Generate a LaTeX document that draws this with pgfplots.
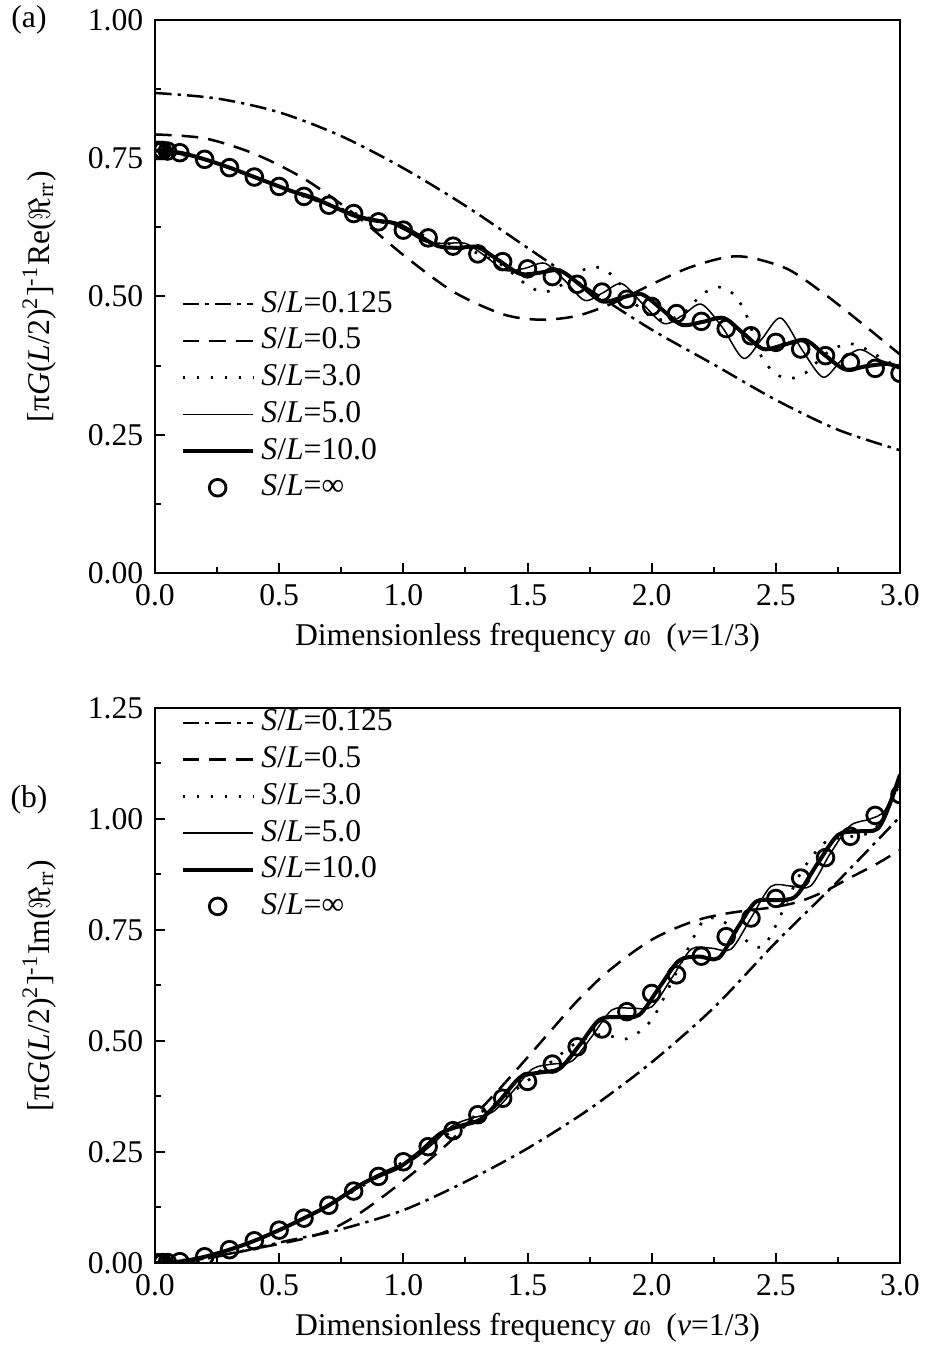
\documentclass[border=0pt]{standalone}
\usepackage{fontspec}
\setmainfont{Liberation Serif}
\usepackage{pgfplots}
\pgfplotsset{compat=1.18}

\newcommand{\lbl}{\fontsize{9.5}{11.4}\selectfont}

\pgfplotsset{
  legend image code/.code={\draw[mark repeat=2,mark phase=2,#1] plot coordinates {(0cm,0cm) (0.37cm,0cm) (0.74cm,0cm)};},
  panel/.style={
    scale only axis, width=223.5pt,
    xmin=0, xmax=3, ymin=0,
    xtick={0,0.5,1,1.5,2,2.5,3},
    minor x tick num=1, minor y tick num=1,
    tick align=inside, tick pos=left,
    major tick length=3pt, minor tick length=1.8pt,
    axis line style={line width=0.8pt},
    every tick/.style={black, line width=0.6pt},
    tick label style={font=\lbl},
    label style={font=\lbl},
    /pgf/number format/assume math mode=true,
    xticklabel style={/pgf/number format/.cd, fixed, fixed zerofill, precision=1},
    yticklabel style={/pgf/number format/.cd, fixed, fixed zerofill, precision=2},
    xlabel={Dimensionless frequency \textit{a}{\fontsize{6.5}{7}\selectfont 0}\ \ (\textit{ν}=1/3)},
    legend style={draw=none, fill=none, font=\lbl, anchor=north west, row sep=-0.8pt},
    legend cell align=left,
    clip marker paths=true,
  },
  dd/.style={black, line width=0.75pt, dash pattern=on 5pt off 1.8pt on 1pt off 1.8pt, smooth},
  ds/.style={black, line width=0.75pt, dash pattern=on 5pt off 3pt, smooth},
  dt/.style={black, line width=0.8pt, dash pattern=on 0.8pt off 3.4pt, smooth},
  thn/.style={black, line width=0.45pt, smooth},
  thk/.style={black, line width=1.2pt, smooth},
  circ/.style={black, only marks, mark=o, mark size=2.5pt, line width=0.85pt},
}

\begin{document}
\begin{tikzpicture}
\useasboundingbox (-46.5pt,-27pt) rectangle (231pt,378.9pt);

% (a) real part
\begin{axis}[panel, at={(0,207pt)}, anchor=south west,
  height=165.9pt, ymax=1,
  ytick={0,0.25,0.5,0.75,1},
  ylabel={[π\textit{G}(\textit{L}/2)\textsuperscript{2}]\textsuperscript{-1}Re($\Re$\textsubscript{rr})},
  ylabel style={at={(axis description cs:-0.155,0.5)}, anchor=center},
  xlabel style={at={(axis description cs:0.5,-0.1175)}, anchor=center},
  legend style={at={(axis description cs:0.02,0.535)}},
]
\addplot[dd] coordinates {(0,0.868)(0.25,0.858)(0.5,0.833)(0.75,0.790)(1.0,0.732)(1.25,0.664)(1.5,0.588)(1.75,0.512)(2.0,0.440)(2.25,0.377)(2.5,0.313)(2.75,0.259)(3.0,0.222)};
\addplot[ds] coordinates {(0,0.793)(0.2,0.786)(0.4,0.758)(0.6,0.713)(0.8,0.650)(1.0,0.575)(1.2,0.509)(1.4,0.468)(1.55,0.458)(1.7,0.465)(1.85,0.489)(2.0,0.522)(2.15,0.552)(2.3,0.571)(2.4,0.570)(2.55,0.549)(2.7,0.503)(2.85,0.450)(3.0,0.395)};
\addplot[dt] coordinates {(0,0.764)(0.2,0.748)(0.4,0.716)(0.6,0.681)(0.8,0.651)(1.0,0.622)(1.1,0.608)(1.2,0.593)(1.3,0.578)(1.4,0.556)(1.5,0.520)(1.57,0.508)(1.65,0.524)(1.72,0.547)(1.78,0.553)(1.85,0.535)(1.92,0.493)(2.0,0.463)(2.07,0.458)(2.14,0.474)(2.2,0.503)(2.27,0.517)(2.33,0.504)(2.38,0.468)(2.44,0.393)(2.5,0.360)(2.56,0.352)(2.62,0.362)(2.7,0.396)(2.78,0.414)(2.84,0.410)(2.92,0.390)(3.0,0.370)};
\addplot[thn] coordinates {(0,0.764)(0.2,0.748)(0.4,0.716)(0.6,0.681)(0.75,0.657)(0.85,0.643)(0.93,0.636)(1.01,0.619)(1.09,0.599)(1.17,0.596)(1.25,0.596)(1.33,0.573)(1.41,0.547)(1.49,0.551)(1.57,0.560)(1.65,0.529)(1.73,0.493)(1.805,0.507)(1.88,0.523)(1.965,0.486)(2.05,0.451)(2.125,0.466)(2.20,0.486)(2.285,0.444)(2.37,0.388)(2.445,0.424)(2.52,0.461)(2.605,0.404)(2.69,0.354)(2.765,0.385)(2.84,0.404)(2.92,0.385)(3.0,0.374)};
\addplot[thk] coordinates {(0,0.764)(0.1,0.760)(0.2,0.748)(0.3,0.733)(0.4,0.716)(0.5,0.699)(0.56,0.689)(0.64,0.678)(0.725,0.661)(0.81,0.645)(0.89,0.637)(0.97,0.632)(1.055,0.612)(1.14,0.591)(1.22,0.588)(1.30,0.589)(1.385,0.565)(1.47,0.541)(1.55,0.543)(1.63,0.547)(1.715,0.520)(1.80,0.491)(1.88,0.498)(1.96,0.504)(2.04,0.477)(2.12,0.449)(2.205,0.454)(2.29,0.461)(2.37,0.433)(2.45,0.405)(2.535,0.413)(2.62,0.421)(2.70,0.393)(2.78,0.368)(2.865,0.374)(2.95,0.378)(3.0,0.371)};
\addplot[circ] coordinates {(0,0.764)(0.01,0.764)(0.02,0.764)(0.03,0.764)(0.05,0.763)(0.1,0.760)(0.2,0.748)(0.3,0.733)(0.4,0.716)(0.5,0.699)(0.6,0.681)(0.7,0.665)(0.8,0.650)(0.9,0.635)(1.0,0.620)(1.1,0.606)(1.2,0.591)(1.3,0.577)(1.4,0.563)(1.5,0.550)(1.6,0.536)(1.7,0.522)(1.8,0.508)(1.9,0.495)(2.0,0.482)(2.1,0.469)(2.2,0.455)(2.3,0.442)(2.4,0.429)(2.5,0.417)(2.6,0.405)(2.7,0.393)(2.8,0.381)(2.9,0.370)(3.0,0.361)};
\legend{\textit{S}/\textit{L}=0.125, \textit{S}/\textit{L}=0.5, \textit{S}/\textit{L}=3.0, \textit{S}/\textit{L}=5.0, \textit{S}/\textit{L}=10.0, \textit{S}/\textit{L}=∞}
\end{axis}

% (b) imaginary part
\begin{axis}[panel, at={(0,0)}, anchor=south west,
  height=166.5pt, ymax=1.25,
  ytick={0,0.25,0.5,0.75,1,1.25},
  ylabel={[π\textit{G}(\textit{L}/2)\textsuperscript{2}]\textsuperscript{-1}Im($\Re$\textsubscript{rr})},
  ylabel style={at={(axis description cs:-0.155,0.5)}, anchor=center},
  xlabel style={at={(axis description cs:0.5,-0.117)}, anchor=center},
  legend style={at={(axis description cs:0.02,1.022)}},
]
\addplot[dd] coordinates {(0,0)(0.1,0.002)(0.2,0.010)(0.3,0.021)(0.4,0.033)(0.5,0.046)(0.6,0.058)(0.75,0.076)(1.0,0.119)(1.25,0.183)(1.5,0.258)(1.75,0.347)(2.0,0.452)(2.25,0.575)(2.5,0.722)(2.75,0.860)(3.0,1.005)};
\addplot[ds] coordinates {(0,0)(0.1,0.002)(0.2,0.009)(0.3,0.020)(0.4,0.032)(0.5,0.043)(0.6,0.055)(0.7,0.073)(0.8,0.103)(0.9,0.142)(1.0,0.185)(1.1,0.230)(1.2,0.280)(1.3,0.340)(1.4,0.400)(1.5,0.463)(1.6,0.527)(1.7,0.590)(1.8,0.645)(1.9,0.690)(2.0,0.728)(2.1,0.755)(2.2,0.775)(2.3,0.787)(2.4,0.795)(2.5,0.802)(2.6,0.815)(2.7,0.838)(2.8,0.868)(2.9,0.897)(3.0,0.930)};
\addplot[dt] coordinates {(0,0)(0.2,0.014)(0.4,0.050)(0.6,0.101)(0.8,0.162)(1.0,0.228)(1.1,0.262)(1.2,0.298)(1.3,0.335)(1.4,0.370)(1.5,0.410)(1.6,0.455)(1.7,0.497)(1.8,0.515)(1.9,0.505)(2.0,0.548)(2.1,0.655)(2.2,0.765)(2.25,0.777)(2.3,0.765)(2.4,0.718)(2.45,0.714)(2.5,0.760)(2.6,0.878)(2.7,0.948)(2.8,0.960)(2.9,0.978)(3.0,1.080)};
\addplot[thn] coordinates {(0,0)(0.2,0.014)(0.4,0.050)(0.6,0.101)(0.8,0.162)(0.88,0.194)(0.96,0.215)(1.04,0.233)(1.12,0.269)(1.20,0.310)(1.28,0.327)(1.36,0.340)(1.44,0.386)(1.52,0.437)(1.60,0.448)(1.68,0.455)(1.76,0.511)(1.84,0.570)(1.92,0.574)(2.00,0.577)(2.08,0.641)(2.16,0.707)(2.24,0.709)(2.32,0.707)(2.40,0.777)(2.48,0.848)(2.56,0.849)(2.64,0.849)(2.72,0.923)(2.80,0.985)(2.88,1.000)(2.94,1.020)(3.0,1.100)};
\addplot[thk] coordinates {(0,0)(0.1,0.003)(0.2,0.014)(0.3,0.030)(0.4,0.050)(0.5,0.074)(0.6,0.101)(0.7,0.130)(0.83,0.177)(0.91,0.198)(0.99,0.218)(1.07,0.252)(1.15,0.292)(1.23,0.309)(1.31,0.323)(1.39,0.367)(1.47,0.418)(1.55,0.429)(1.63,0.438)(1.71,0.491)(1.79,0.548)(1.87,0.554)(1.95,0.559)(2.03,0.620)(2.11,0.681)(2.19,0.690)(2.27,0.687)(2.345,0.754)(2.42,0.814)(2.50,0.817)(2.58,0.826)(2.665,0.897)(2.75,0.964)(2.83,0.972)(2.91,0.978)(2.96,1.035)(3.0,1.100)};
\addplot[circ] coordinates {(0,0)(0.01,0)(0.02,0)(0.03,0.001)(0.05,0.001)(0.1,0.003)(0.2,0.014)(0.3,0.030)(0.4,0.050)(0.5,0.074)(0.6,0.101)(0.7,0.130)(0.8,0.162)(0.9,0.195)(1.0,0.228)(1.1,0.262)(1.2,0.298)(1.3,0.334)(1.4,0.371)(1.5,0.409)(1.6,0.448)(1.7,0.487)(1.8,0.527)(1.9,0.566)(2.0,0.607)(2.1,0.649)(2.2,0.691)(2.3,0.735)(2.4,0.777)(2.5,0.821)(2.6,0.867)(2.7,0.913)(2.8,0.961)(2.9,1.008)(3.0,1.055)};
\legend{\textit{S}/\textit{L}=0.125, \textit{S}/\textit{L}=0.5, \textit{S}/\textit{L}=3.0, \textit{S}/\textit{L}=5.0, \textit{S}/\textit{L}=10.0, \textit{S}/\textit{L}=∞}
\end{axis}

\node[font=\lbl] at (-37.8pt,372.9pt) {(a)};
\node[font=\lbl] at (-37.8pt,138.9pt) {(b)};
\end{tikzpicture}
\end{document}
